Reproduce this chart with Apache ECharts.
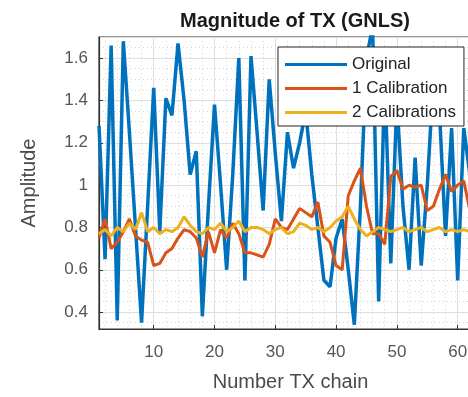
<!DOCTYPE html>
<html>
<head>
<meta charset="utf-8">
<script src="https://cdn.jsdelivr.net/npm/echarts@6.0.0/dist/echarts.min.js"></script>
<style>
  html, body { margin: 0; padding: 0; background: #fff; overflow: hidden; }
  /* the reference figure is cropped on the right, so the canvas runs past the window */
  #chart { width: 500px; height: 397px; }
</style>
</head>
<body>
<div id="chart"></div>
<script>
// TX chain numbers
var chains = [
  1, 2, 3, 4, 5, 6, 7, 8, 9, 10, 11, 12, 13, 14, 15, 16,
  17, 18, 19, 20, 21, 22, 23, 24, 25, 26, 27, 28, 29, 30, 31, 32,
  33, 34, 35, 36, 37, 38, 39, 40, 41, 42, 43, 44, 45, 46, 47, 48,
  49, 50, 51, 52, 53, 54, 55, 56, 57, 58, 59, 60, 61, 62, 63, 64
]
var seriesNames = ['Original', '1 Calibration', '2 Calibrations']

// prettier-ignore
var original = [
  1.28, 0.65, 1.66, 0.36, 1.68, 1.25, 0.80, 0.35, 0.90, 1.46, 0.78, 1.41, 1.33, 1.67, 1.40, 1.05,
  1.16, 0.38, 0.90, 1.38, 1.00, 0.60, 1.05, 1.60, 0.55, 1.61, 1.25, 0.88, 1.50, 1.15, 0.83, 1.25,
  1.08, 1.20, 1.35, 1.05, 0.80, 0.55, 0.52, 0.75, 0.84, 0.60, 0.34, 0.90, 1.60, 1.75, 0.45, 1.50,
  0.63, 1.40, 0.90, 0.60, 1.13, 0.62, 1.00, 1.50, 1.35, 0.76, 1.27, 0.55, 1.27, 1.05, 1.30, 0.90
]
// prettier-ignore
var calib1 = [
  0.75, 0.84, 0.70, 0.73, 0.78, 0.84, 0.76, 0.74, 0.73, 0.62, 0.63, 0.68, 0.70, 0.75, 0.79, 0.78,
  0.75, 0.66, 0.78, 0.68, 0.79, 0.75, 0.82, 0.77, 0.68, 0.68, 0.67, 0.66, 0.72, 0.84, 0.80, 0.79,
  0.84, 0.89, 0.87, 0.85, 0.92, 0.76, 0.73, 0.62, 0.60, 0.95, 1.02, 1.08, 0.90, 0.77, 0.77, 0.72,
  1.04, 1.07, 0.98, 1.00, 0.99, 1.00, 0.88, 0.90, 0.98, 1.05, 0.97, 1.00, 1.02, 0.88, 0.85, 0.90
]
// prettier-ignore
var calib2 = [
  0.77, 0.79, 0.76, 0.80, 0.78, 0.82, 0.79, 0.87, 0.78, 0.80, 0.77, 0.79, 0.78, 0.80, 0.85, 0.81,
  0.78, 0.77, 0.80, 0.79, 0.82, 0.78, 0.80, 0.83, 0.78, 0.80, 0.80, 0.79, 0.77, 0.79, 0.80, 0.77,
  0.78, 0.82, 0.81, 0.79, 0.80, 0.78, 0.80, 0.83, 0.85, 0.90, 0.84, 0.79, 0.76, 0.78, 0.80, 0.79,
  0.78, 0.79, 0.80, 0.78, 0.79, 0.80, 0.78, 0.79, 0.80, 0.78, 0.79, 0.78, 0.79, 0.78, 0.80, 0.79
]
var colors = ['#0072BD', '#D95319', '#EDB120']

function pairs(values) {
  return chains.map(function (c, i) { return [c, values[i]] })
}

var chartDom = document.getElementById('chart')
var myChart = echarts.init(chartDom, null, { renderer: 'canvas' })
var font = "'Liberation Sans', Arial, Helvetica, sans-serif"

var option = {
  animation: false,
  backgroundColor: '#fff',
  color: colors,
  textStyle: { fontFamily: font },
  title: {
    text: 'Magnitude of TX (GNLS)',
    left: 290,
    textAlign: 'center',
    top: 6,
    textStyle: { fontFamily: font, fontSize: 20, fontWeight: 'bold', color: '#1a1a1a' }
  },
  legend: {
    orient: 'vertical',
    left: 278,
    top: 47,
    padding: [9, 8, 5, 7],
    itemGap: 7,
    icon: 'rect',
    itemWidth: 62,
    itemHeight: 3,
    borderColor: '#222',
    borderWidth: 1,
    backgroundColor: '#fff',
    textStyle: { fontFamily: font, fontSize: 17, color: '#222' },
    data: seriesNames
  },
  grid: {
    left: 99,
    top: 37,
    width: 383,
    height: 294,
    show: true,
    borderColor: '#333',
    borderWidth: 1.2
  },
  xAxis: {
    type: 'value',
    min: 1,
    max: 64,
    minInterval: 10,
    maxInterval: 10,
    name: 'Number TX chain',
    nameLocation: 'middle',
    nameGap: 43,
    nameTextStyle: { fontFamily: font, fontSize: 20, color: '#4a4a4a' },
    axisLine: { show: true, onZero: false, lineStyle: { color: '#333', width: 1.2 } },
    axisTick: { show: true, inside: true, length: 4, lineStyle: { color: '#333' } },
    axisLabel: {
      showMinLabel: false, showMaxLabel: false, margin: 15,
      fontFamily: font, fontSize: 17, color: '#555'
    },
    splitLine: { show: true, lineStyle: { color: '#dedede', width: 1 } },
    minorTick: { show: false, splitNumber: 5 },
    minorSplitLine: { show: true, lineStyle: { color: '#d4d4d4', width: 1, type: [1, 3] } }
  },
  yAxis: {
    type: 'value',
    min: 0.32,
    max: 1.7,
    minInterval: 0.2,
    maxInterval: 0.2,
    name: 'Amplitude',
    nameLocation: 'middle',
    nameGap: 60,
    nameTextStyle: { fontFamily: font, fontSize: 20, color: '#4a4a4a' },
    axisLine: { show: true, onZero: false, lineStyle: { color: '#333', width: 1.2 } },
    axisTick: { show: true, inside: true, length: 4, lineStyle: { color: '#333' } },
    axisLabel: {
      showMinLabel: false, showMaxLabel: false, margin: 11,
      fontFamily: font, fontSize: 17, color: '#555'
    },
    splitLine: { show: true, lineStyle: { color: '#dedede', width: 1 } },
    minorTick: { show: false, splitNumber: 4 },
    minorSplitLine: { show: true, lineStyle: { color: '#d4d4d4', width: 1, type: [1, 3] } }
  },
  series: [
    {
      name: seriesNames[0],
      type: 'line',
      symbol: 'none',
      clip: true,
      data: pairs(original),
      lineStyle: { width: 3.5, color: colors[0] },
      z: 2
    },
    {
      name: seriesNames[1],
      type: 'line',
      symbol: 'none',
      clip: true,
      data: pairs(calib1),
      lineStyle: { width: 3, color: colors[1] },
      z: 3
    },
    {
      name: seriesNames[2],
      type: 'line',
      symbol: 'none',
      clip: true,
      data: pairs(calib2),
      lineStyle: { width: 3, color: colors[2] },
      z: 4
    }
  ]
}

option && myChart.setOption(option)
</script>
</body>
</html>
